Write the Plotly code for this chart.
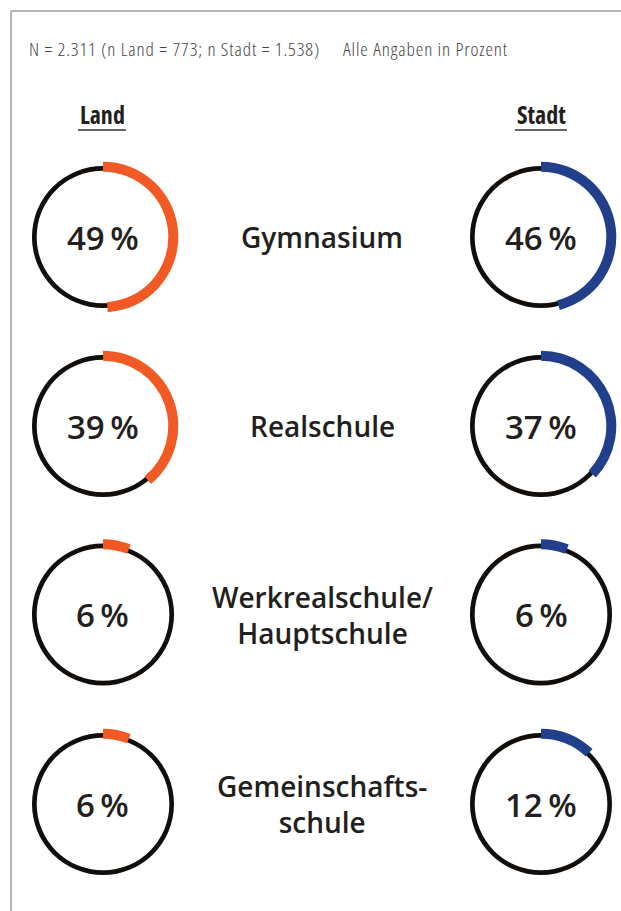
import plotly.graph_objects as go

# ---- data ----
categories = ["Gymnasium", "Realschule", "Werkrealschule/<br>Hauptschule", "Gemeinschafts-<br>schule"]
land = [49, 39, 6, 6]
stadt = [46, 37, 6, 12]
group_labels = ["Land", "Stadt"]
header_n = "N = 2.311 (n Land = 773; n Stadt = 1.538)"
header_unit = "Alle Angaben in Prozent"

# ---- layout helpers ----
W, H = 621, 911
ORANGE = "#F15A24"
BLUE = "#213F8B"
RING = "#120E0B"
TEXT = "#231F20"


def px(x):
    return x / W


def py(y):
    return 1 - y / H


row_y = [237, 426, 614.5, 804]
col_x = [103, 541]
mid_x = 322
R_RING = 71.0
R_RING_IN = 66.3
R_ARC = 75.3
R_ARC_IN = 65.3

fig = go.Figure()


def dom(cx, cy, r):
    return dict(x=[px(cx - r), px(cx + r)], y=[py(cy + r), py(cy - r)])


def cond(t, pct, spacing=0):
    return f'<span style="font-stretch:{pct}%;letter-spacing:{spacing}px">{t}</span>'


for ci, (series, color) in enumerate([(land, ORANGE), (stadt, BLUE)]):
    cx = col_x[ci]
    for ri, v in enumerate(series):
        cy = row_y[ri]
        # black base ring
        fig.add_trace(go.Pie(
            values=[100], labels=["base"], domain=dom(cx, cy, R_RING),
            hole=R_RING_IN / R_RING, sort=False, direction="clockwise",
            marker=dict(colors=[RING], line=dict(width=0)),
            textinfo="none", hoverinfo="skip", showlegend=False,
        ))
        # coloured share arc
        fig.add_trace(go.Pie(
            values=[v, 100 - v], labels=["share", "rest"], domain=dom(cx, cy, R_ARC),
            hole=R_ARC_IN / R_ARC, sort=False, direction="clockwise", rotation=0,
            marker=dict(colors=[color, "rgba(0,0,0,0)"], line=dict(width=0)),
            textinfo="none", hoverinfo="skip", showlegend=False,
        ))
        fig.add_annotation(
            x=px(cx), y=py(cy), xref="paper", yref="paper",
            text=f"{v}\u2009%", showarrow=False, xanchor="center", yanchor="middle",
            font=dict(family="Open Sans", size=33, color=TEXT, weight=600),
        )

for ri, cat in enumerate(categories):
    fig.add_annotation(
        x=px(mid_x), y=py(row_y[ri]), xref="paper", yref="paper",
        text=cat, showarrow=False, xanchor="center", yanchor="middle",
        font=dict(family="Open Sans", size=28, color=TEXT, weight=600),
    )

for ci, g in enumerate(group_labels):
    fig.add_annotation(
        x=px(col_x[ci]), y=py(115), xref="paper", yref="paper",
        text=cond(g, 75), showarrow=False, xanchor="center", yanchor="middle",
        font=dict(family="Open Sans", size=24, color=TEXT, weight=700),
    )

fig.add_annotation(x=px(27), y=py(49), xref="paper", yref="paper", text=cond(header_n, 75, 0.9),
                   showarrow=False, xanchor="left", yanchor="middle",
                   font=dict(family="Open Sans", size=19, color="#444444", weight=300))
fig.add_annotation(x=px(341), y=py(49), xref="paper", yref="paper", text=cond(header_unit, 75, 0.9),
                   showarrow=False, xanchor="left", yanchor="middle",
                   font=dict(family="Open Sans", size=19, color="#444444", weight=300))

shapes = [
    dict(type="line", xref="paper", yref="paper", x0=px(11), x1=1, y0=py(11), y1=py(11),
         line=dict(color="#9E9E9E", width=1.5)),
    dict(type="line", xref="paper", yref="paper", x0=px(11), x1=px(11), y0=py(11), y1=0,
         line=dict(color="#9E9E9E", width=1.5)),
    dict(type="line", xref="paper", yref="paper", x0=px(78), x1=px(126), y0=py(130), y1=py(130),
         line=dict(color="#333333", width=1.5)),
    dict(type="line", xref="paper", yref="paper", x0=px(515), x1=px(567), y0=py(130), y1=py(130),
         line=dict(color="#333333", width=1.5)),
]

fig.update_layout(
    width=W, height=H, margin=dict(l=0, r=0, t=0, b=0),
    paper_bgcolor="white", plot_bgcolor="white",
    shapes=shapes, showlegend=False,
)

fig.write_html("out.html", config={"displayModeBar": False})

# remove the browser's default page margin so the figure sits at (0, 0)
with open("out.html", encoding="utf-8") as f:
    html = f.read()
html = html.replace("<body>", '<body style="margin:0;overflow:hidden">', 1)
with open("out.html", "w", encoding="utf-8") as f:
    f.write(html)
